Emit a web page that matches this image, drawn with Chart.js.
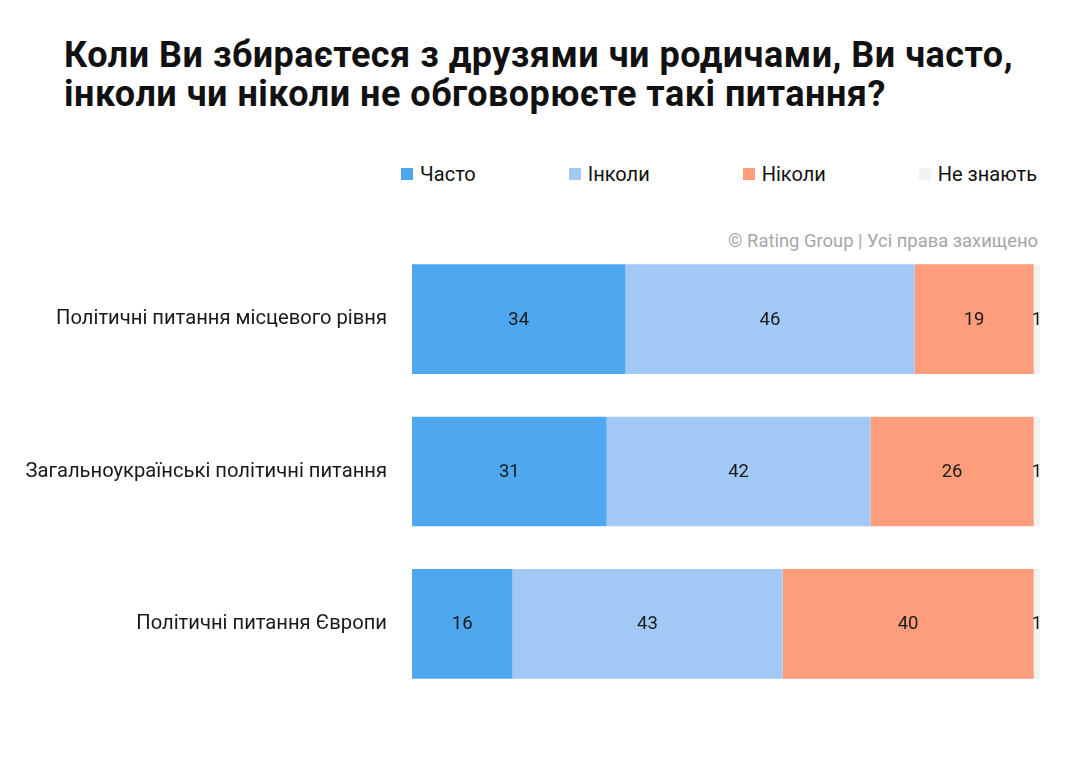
<!DOCTYPE html>
<html>
<head>
<meta charset="utf-8">
<script src="https://cdn.jsdelivr.net/npm/chart.js@4/dist/chart.umd.min.js"></script>
<style>
  html, body { margin: 0; padding: 0; background: #fff; }
  #wrap { position: relative; width: 1080px; height: 764px; overflow: hidden; font-family: Roboto, "Noto Sans", sans-serif; }
  #chart { position: absolute; left: 0; top: 0; }
  #title { position: absolute; left: 64px; top: 36px; font-weight: 700; font-size: 36px; letter-spacing: 0.5px; line-height: 39px; color: #111; margin: 0; white-space: nowrap; }
  #legend { position: absolute; right: 43px; top: 162px; display: flex; gap: 93px; align-items: center; }
  .lg-item { display: flex; align-items: center; font-size: 20px; color: #111; height: 24px; }
  .lg-box { width: 12px; height: 12px; margin-right: 7px; display: inline-block; }
  #copy { position: absolute; right: 42px; top: 230px; font-size: 18.4px; color: #a6a6a6; }
</style>
</head>
<body>
<div id="wrap">
  <h1 id="title">Коли Ви збираєтеся з друзями чи родичами, Ви часто,<br>інколи чи ніколи не обговорюєте такі питання?</h1>
  <div id="legend"></div>
  <div id="copy">© Rating Group | Усі права захищено</div>
  <canvas id="chart" width="1080" height="764"></canvas>
</div>
<script>
const categories = [
  "Політичні питання місцевого рівня",
  "Загальноукраїнські політичні питання",
  "Політичні питання Європи"
];
const seriesNames = ["Часто", "Інколи", "Ніколи", "Не знають"];
const often = [34, 31, 16];
const sometimes = [46, 42, 43];
const never = [19, 26, 40];
const dontKnow = [1, 1, 1];
const seriesColors = ["#4ea7ef", "#a2c9f6", "#fe9d7b", "#f2f2f2"];

const valueLabels = {
  id: 'valueLabels',
  afterDatasetsDraw(chart) {
    const ctx = chart.ctx;
    ctx.save();
    ctx.font = '18.5px Roboto';
    ctx.fillStyle = '#1a1a1a';
    ctx.textAlign = 'center';
    ctx.textBaseline = 'middle';
    chart.data.datasets.forEach((ds, di) => {
      const meta = chart.getDatasetMeta(di);
      meta.data.forEach((bar, i) => {
        const p = bar.getProps(['x', 'y', 'base'], true);
        const cx = (p.x + p.base) / 2;
        ctx.fillText(String(ds.data[i]), cx, p.y + 1);
      });
    });
    ctx.restore();
  }
};

const chart = new Chart(document.getElementById('chart'), {
  type: 'bar',
  data: {
    labels: categories,
    datasets: [
      { label: seriesNames[0], data: often, backgroundColor: seriesColors[0] },
      { label: seriesNames[1], data: sometimes, backgroundColor: seriesColors[1] },
      { label: seriesNames[2], data: never, backgroundColor: seriesColors[2] },
      { label: seriesNames[3], data: dontKnow, backgroundColor: seriesColors[3] }
    ]
  },
  options: {
    indexAxis: 'y',
    responsive: false,
    animation: false,
    layout: { padding: { top: 243, bottom: 64, left: 0, right: 40 } },
    datasets: { bar: { categoryPercentage: 1, barPercentage: 0.72, borderWidth: 0 } },
    scales: {
      x: { stacked: true, min: 0, max: 100, display: false },
      y: {
        stacked: true,
        grid: { display: false, drawTicks: false },
        border: { display: false },
        ticks: { font: { family: 'Roboto', size: 20.2 }, color: '#1a1a1a', padding: 25 },
        afterFit(scale) { scale.width = 412; }
      }
    },
    plugins: {
      legend: { display: false },
      tooltip: { enabled: false }
    }
  },
  plugins: [valueLabels]
});

// HTML legend built from the chart's own legend items
const legendEl = document.getElementById('legend');
const items = Chart.defaults.plugins.legend.labels.generateLabels(chart);
items.forEach(it => {
  const d = document.createElement('div');
  d.className = 'lg-item';
  const b = document.createElement('span');
  b.className = 'lg-box';
  b.style.background = it.fillStyle;
  const t = document.createElement('span');
  t.textContent = it.text;
  d.appendChild(b); d.appendChild(t);
  legendEl.appendChild(d);
});
</script>
</body>
</html>
